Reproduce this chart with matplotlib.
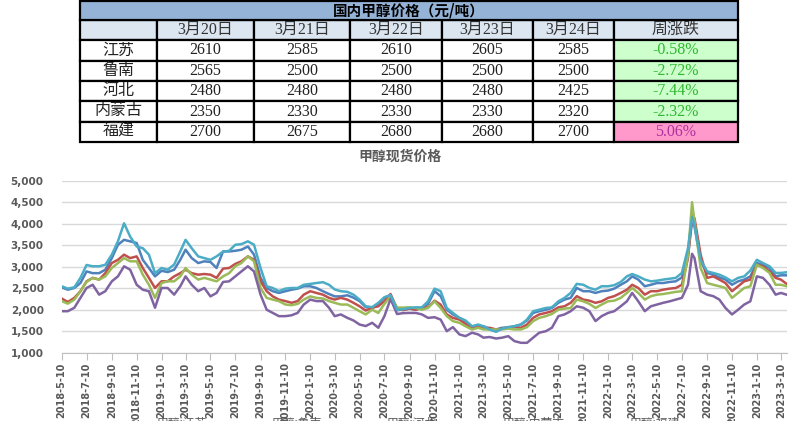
import datetime as dt
import matplotlib
matplotlib.use('Agg')
from matplotlib import pyplot as plt
from matplotlib import dates as mdates
from matplotlib import ticker

# table data (元/吨)
TABLE_TITLE = '国内甲醇价格（元/吨）'
TABLE_DATES = ['3月20日', '3月21日', '3月22日', '3月23日', '3月24日']
TABLE_CHANGE_HEAD = '周涨跌'
REGIONS = ['江苏', '鲁南', '河北', '内蒙古', '福建']
PRICES = [
    [2610, 2585, 2610, 2605, 2585],
    [2565, 2500, 2500, 2500, 2500],
    [2480, 2480, 2480, 2480, 2425],
    [2350, 2330, 2330, 2330, 2320],
    [2700, 2675, 2680, 2680, 2700],
]
WEEK_CHANGE = ['-0.58%', '-2.72%', '-7.44%', '-2.32%', '5.06%']

# line chart: readings taken on the 10th and 25th of each month,
# plus one extra reading at the top of the 2022 summer spike
PEAK_DATE = dt.date(2022, 8, 4)

jiangsu = [
    2520, 2465, 2505, 2620, 2890, 2850, 2850, 2930, 3200, 3510, 3625, 3590, 3550, 3160, 2970, 2775,
    2905, 2875, 2930, 3160, 3395, 3200, 3085, 3125, 3110, 2970, 3355, 3355, 3370, 3395, 3470, 3280,
    2740, 2505, 2430, 2390, 2430, 2465, 2490, 2545,
    2545, 2505, 2430, 2365, 2310, 2310, 2335, 2280, 2200, 2060, 2045, 2135, 2280, 2335, 1990, 2000,
    2025, 2000, 2040, 2135, 2430, 2315, 2000, 1890,
    1810, 1735, 1595, 1615, 1615, 1560, 1540, 1580, 1580, 1615, 1655, 1750, 1925, 1965, 2000, 2040,
    2160, 2235, 2275, 2505, 2430, 2430, 2390, 2430,
    2445, 2490, 2580, 2660, 2775, 2700, 2545, 2580, 2620, 2620, 2645, 2660, 2750, 3280, 4050, 3935,
    3125, 2855, 2815, 2750, 2700, 2580, 2660, 2700, 2775,
    3085, 3045, 2970, 2775, 2800, 2800,
]
lunan = [
    2260, 2180, 2275, 2430, 2660, 2740, 2700, 2850, 3085, 3160, 3280, 3200, 3240, 2970, 2740, 2505,
    2660, 2660, 2775, 2850, 2930, 2850, 2815, 2830, 2815, 2740, 2955, 2970, 3065, 3125, 3240, 3160,
    2660, 2430, 2310, 2235, 2200, 2160, 2200, 2350,
    2430, 2390, 2350, 2275, 2235, 2275, 2235, 2160, 2080, 1980, 2045, 2080, 2200, 2365, 2020, 1990,
    2025, 2000, 2040, 2055, 2210, 2120, 1890, 1810,
    1770, 1670, 1580, 1595, 1560, 1580, 1540, 1560, 1595, 1595, 1580, 1655, 1810, 1890, 1925, 1965,
    2055, 2080, 2160, 2315, 2235, 2210, 2160, 2195,
    2275, 2315, 2390, 2465, 2580, 2505, 2350, 2430, 2430, 2465, 2490, 2505, 2580, 3200, 4200, 4125,
    3280, 2740, 2775, 2700, 2620, 2430, 2545, 2660, 2700,
    3045, 3010, 2890, 2740, 2700, 2600,
]
hebei = [
    2200, 2140, 2235, 2430, 2645, 2740, 2700, 2775, 2970, 3085, 3200, 3125, 3125, 2815, 2580, 2275,
    2620, 2660, 2660, 2775, 2970, 2815, 2700, 2740, 2700, 2660, 2775, 2850, 3010, 3085, 3240, 3125,
    2505, 2275, 2235, 2200, 2120, 2105, 2135, 2235,
    2310, 2275, 2260, 2200, 2160, 2120, 2120, 2045, 1965, 1890, 2000, 1925, 2135, 2310, 2050, 2050,
    2055, 2040, 2000, 2040, 2195, 2040, 1850, 1735,
    1695, 1615, 1540, 1580, 1540, 1540, 1540, 1540, 1560, 1540, 1540, 1595, 1735, 1810, 1850, 1900,
    2000, 2025, 2040, 2235, 2195, 2135, 2040, 2120,
    2195, 2210, 2275, 2390, 2505, 2390, 2235, 2315, 2350, 2365, 2390, 2415, 2430, 3280, 4500, 4050,
    2970, 2620, 2580, 2545, 2505, 2275, 2390, 2505, 2545,
    3045, 2970, 2855, 2580, 2580, 2545,
]
neimenggu = [
    1965, 1965, 2045, 2275, 2505, 2580, 2350, 2430, 2660, 2775, 3010, 2930, 2580, 2465, 2430, 2045,
    2505, 2505, 2350, 2545, 2775, 2580, 2430, 2505, 2310, 2390, 2645, 2660, 2775, 2890, 3010, 2890,
    2350, 2000, 1925, 1850, 1850, 1870, 1925, 2120,
    2235, 2200, 2200, 2045, 1850, 1890, 1810, 1750, 1655, 1620, 1695, 1580, 1850, 2250, 1900, 1920,
    1925, 1925, 1890, 1810, 1825, 1770, 1500, 1595,
    1425, 1385, 1465, 1425, 1350, 1365, 1330, 1350, 1385, 1270, 1230, 1230, 1350, 1465, 1500, 1580,
    1850, 1890, 1965, 2080, 2045, 1965, 1735, 1850,
    1925, 1965, 2080, 2195, 2390, 2195, 1965, 2080, 2120, 2160, 2195, 2235, 2275, 2580, 3300, 3200,
    2430, 2350, 2315, 2235, 2040, 1890, 2000, 2120, 2195,
    2775, 2740, 2580, 2350, 2390, 2350,
]
fujian = [
    2545, 2490, 2520, 2740, 3040, 3010, 3010, 3045, 3280, 3590, 4010, 3700, 3470, 3430, 3280, 2850,
    2970, 2930, 3050, 3355, 3625, 3430, 3240, 3200, 3160, 3240, 3350, 3370, 3510, 3525, 3590, 3510,
    2970, 2545, 2505, 2430, 2490, 2505, 2505, 2580,
    2600, 2620, 2640, 2580, 2470, 2430, 2415, 2350, 2235, 2080, 2060, 2160, 2290, 2340, 2000, 2010,
    2040, 2055, 2055, 2195, 2490, 2430, 2040, 1925,
    1810, 1750, 1615, 1655, 1615, 1540, 1485, 1560, 1595, 1615, 1655, 1770, 1965, 2000, 2040, 2055,
    2195, 2275, 2390, 2600, 2580, 2505, 2465, 2545,
    2545, 2570, 2645, 2775, 2830, 2775, 2700, 2660, 2675, 2700, 2720, 2740, 2855, 3430, 4150, 3975,
    3160, 2890, 2855, 2815, 2750, 2660, 2740, 2775, 2910,
    3160, 3085, 3010, 2855, 2855, 2870,
]

SERIES = [
    ('甲醇:江苏', jiangsu, '#4F81BD'),
    ('甲醇:鲁南', lunan, '#C0504D'),
    ('甲醇:河北', hebei, '#9BBB59'),
    ('甲醇:内蒙古', neimenggu, '#8064A2'),
    ('甲醇:福建', fujian, '#4BACC6'),
]


def reading_dates():
    days = []
    year, month = 2018, 5
    while (year, month) <= (2023, 3):
        days.append(dt.date(year, month, 10))
        days.append(dt.date(year, month, 24 if (year, month) == (2023, 3) else 25))
        month += 1
        if month > 12:
            year, month = year + 1, 1
    days.append(PEAK_DATE)
    return sorted(days)


dates = reading_dates()

W, H = 797, 421
fig = plt.figure(figsize=(W / 100, H / 100), dpi=100)

SERIF = ['Liberation Serif', 'Noto Sans CJK SC']
CJK = ['Noto Sans CJK SC', 'DejaVu Sans']

# ---------------- table ----------------
t_left, t_right, t_top, t_bottom = 80, 738, 1, 142
title_h = 19
ax_t = fig.add_axes([t_left / W, 1 - t_bottom / H, (t_right - t_left) / W,
                     (t_bottom - t_top) / H])
ax_t.axis('off')
body_frac = (t_bottom - t_top - title_h) / (t_bottom - t_top)

col_px = [77, 97, 96, 92, 91, 81, 124]
col_w = [c / sum(col_px) for c in col_px]

cells = [[''] + TABLE_DATES + [TABLE_CHANGE_HEAD]]
for name, row, chg in zip(REGIONS, PRICES, WEEK_CHANGE):
    cells.append([name] + [str(v) for v in row] + [chg])

tbl = ax_t.table(cellText=cells, colWidths=col_w, cellLoc='center',
                 bbox=[0, 0, 1, body_frac])
tbl.auto_set_font_size(False)
for (r, c), cell in tbl.get_celld().items():
    cell.set_edgecolor('black')
    cell.set_linewidth(1.6)
    txt = cell.get_text()
    txt.set_fontfamily(SERIF)
    txt.set_fontsize(11.5)
    txt.set_color('#222222')
    if r == 0:
        cell.set_facecolor('#DCE6F1')
        txt.set_color('#333333')
    elif c == 6:
        if WEEK_CHANGE[r - 1].startswith('-'):
            cell.set_facecolor('#CCFFCC')
            txt.set_color('#2EB82E')
        else:
            cell.set_facecolor('#FF99CC')
            txt.set_color('#B0309E')

head = ax_t.table(cellText=[[TABLE_TITLE]], cellLoc='center',
                  bbox=[0, body_frac, 1, 1 - body_frac])
head.auto_set_font_size(False)
hc = head[0, 0]
hc.set_facecolor('#95B3D7')
hc.set_edgecolor('black')
hc.set_linewidth(1.6)
hc.get_text().set_fontfamily(CJK)
hc.get_text().set_fontsize(10.5)
hc.get_text().set_fontweight('bold')

# ---------------- line chart ----------------
a_left, a_right, a_top, a_bottom = 61.7, 786.6, 180.7, 352.7
ax = fig.add_axes([a_left / W, 1 - a_bottom / H, (a_right - a_left) / W,
                   (a_bottom - a_top) / H])

for label, values, color in SERIES:
    ax.plot(dates, values, color=color, lw=1.8, label=label)

ax.set_xlim(dates[0], dates[-1])
ax.set_ylim(1000, 5000)
ax.yaxis.set_major_locator(ticker.MultipleLocator(500))
ax.yaxis.set_major_formatter(ticker.FuncFormatter(lambda v, p: f'{int(v):,}'))
ax.xaxis.set_major_locator(mdates.MonthLocator(bymonth=range(1, 13, 2), bymonthday=10))


def date_label(v, pos):
    d = mdates.num2date(v)
    return f'{d.year}-{d.month}-{d.day}'


ax.xaxis.set_major_formatter(ticker.FuncFormatter(date_label))
ax.grid(axis='y', color='#D9D9D9', lw=1.0)
ax.set_axisbelow(True)
for side in ['left', 'right', 'top']:
    ax.spines[side].set_visible(False)
ax.spines['bottom'].set_color('#BFBFBF')
ax.tick_params(axis='y', length=0, pad=13, labelsize=7.5, labelcolor='#595959')
ax.tick_params(axis='x', length=5, color='#BFBFBF', pad=2, labelsize=7,
               labelcolor='#595959', labelrotation=90)
for lab in ax.get_xticklabels() + ax.get_yticklabels():
    lab.set_fontweight('bold')

fig.text(400 / W, 1 - 157 / H, '甲醇现货价格', ha='center', va='center',
         fontsize=10, fontweight='bold', color='#595959', family=CJK)

fig.legend(loc='upper center', bbox_to_anchor=(0.5, 0.035), ncol=5, frameon=False,
           prop={'family': CJK, 'size': 8.5}, handlelength=2.5, columnspacing=2.2,
           labelcolor='#595959')

fig.savefig('out.png', dpi=100)
